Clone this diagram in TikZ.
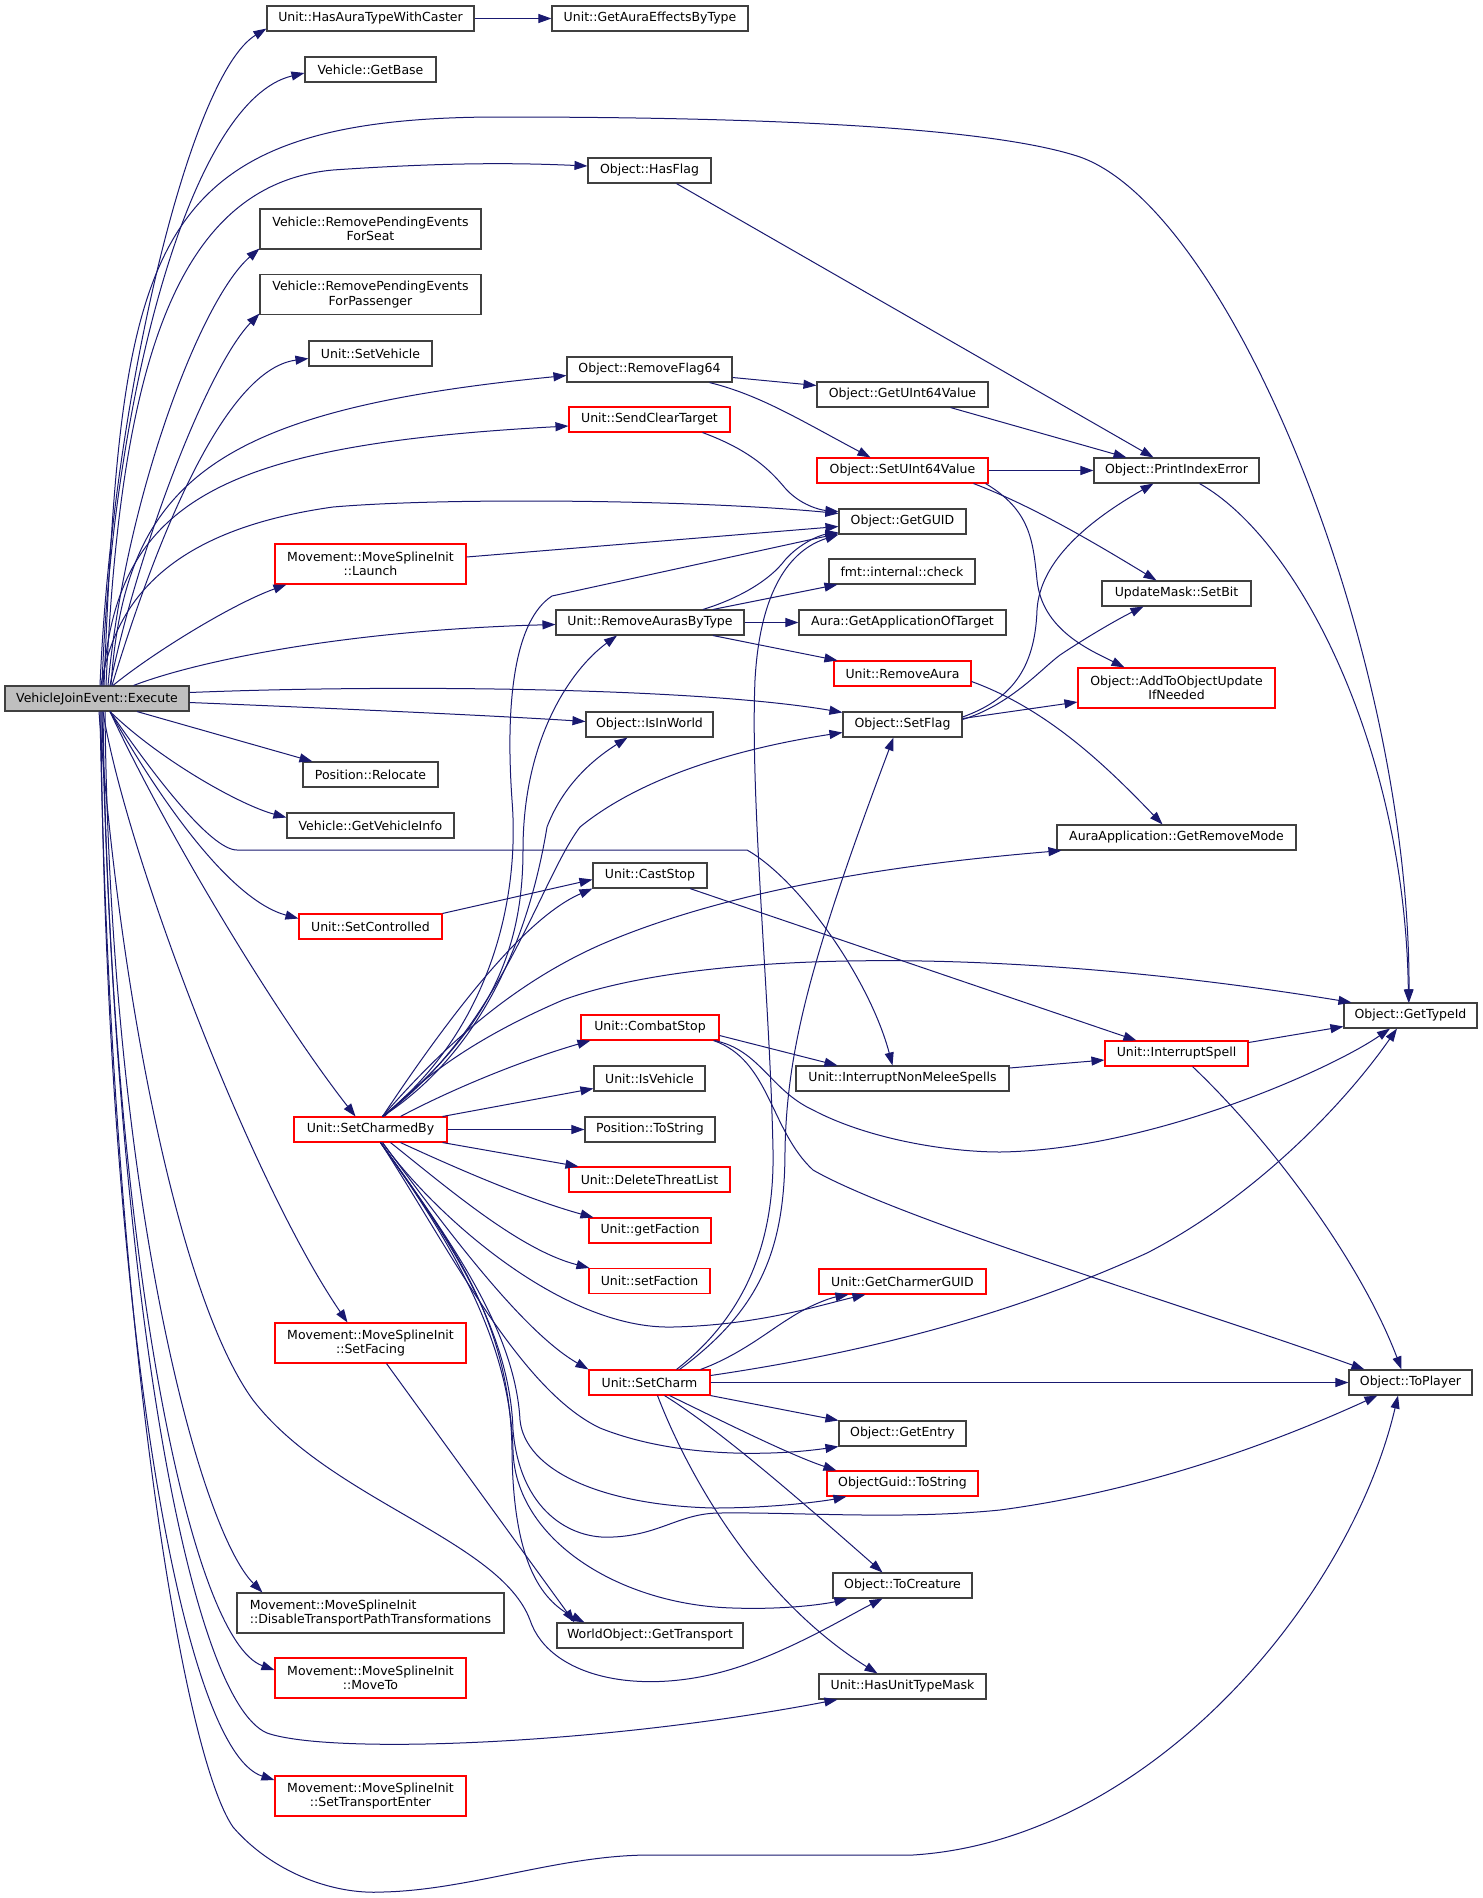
\documentclass[tikz,border=0pt]{standalone}
\usepackage{fontspec}
\setmainfont{DejaVu Sans}
\usetikzlibrary{arrows.meta,calc}
\definecolor{edgeblue}{HTML}{191970}
\definecolor{rootgray}{HTML}{BFBFBF}
\definecolor{boxline}{HTML}{404040}
\begin{document}
\begin{tikzpicture}[x=1pt,y=-1pt,
  box/.style={draw=boxline,line width=1.1pt,minimum height=25pt,inner sep=0pt,fill=white,text=black,font=\fontsize{12.5}{14.3}\selectfont},
  rbox/.style={box,draw=red},
  two/.style={minimum height=40pt,align=center},
  e/.style={draw=edgeblue,line width=1pt,-{Triangle[length=13pt,width=9pt]}}]
\fill[white] (0,0) rectangle (1483,1898);
\useasboundingbox (0,0) rectangle (1483,1898);
% nodes
\node[box,minimum width=184pt,fill=rootgray] (exec) at (97,698.5) {VehicleJoinEvent::Execute};
\node[box,minimum width=207pt] (hatc) at (370.5,18.5) {Unit::HasAuraTypeWithCaster};
\node[box,minimum width=196pt] (gaebt) at (650,18.5) {Unit::GetAuraEffectsByType};
\node[box,minimum width=131pt] (gbase) at (370.5,69.5) {Vehicle::GetBase};
\node[box,minimum width=123pt] (hasflag) at (649.5,170.5) {Object::HasFlag};
\node[box,two,minimum width=221pt] (rpeseat) at (370.5,229) {Vehicle::RemovePendingEvents\\ForSeat};
\node[box,two,minimum width=221pt] (rpepass) at (370.5,294.5) {Vehicle::RemovePendingEvents\\ForPassenger};
\node[box,minimum width=123pt] (setveh) at (370.5,353.5) {Unit::SetVehicle};
\node[box,minimum width=165pt] (rf64) at (649.5,369.5) {Object::RemoveFlag64};
\node[box,minimum width=171pt] (gu64) at (902.5,394.5) {Object::GetUInt64Value};
\node[rbox,minimum width=161pt] (sct) at (649.5,419.5) {Unit::SendClearTarget};
\node[rbox,minimum width=171pt] (su64) at (902.5,470.5) {Object::SetUInt64Value};
\node[box,minimum width=165pt] (pie) at (1176.5,470.5) {Object::PrintIndexError};
\node[rbox,two,minimum width=191pt] (launch) at (370.5,564) {Movement::MoveSplineInit\\::Launch};
\node[box,minimum width=127pt] (guid) at (902.5,521.5) {Object::GetGUID};
\node[box,minimum width=146pt] (fmt) at (902,571.5) {fmt::internal::check};
\node[box,minimum width=149pt] (setbit) at (1176.5,593.5) {UpdateMask::SetBit};
\node[box,minimum width=188pt] (rabt) at (650,622.5) {Unit::RemoveAurasByType};
\node[box,minimum width=207pt] (gaot) at (902.5,622.5) {Aura::GetApplicationOfTarget};
\node[rbox,minimum width=137pt] (raura) at (902.5,673.5) {Unit::RemoveAura};
\node[rbox,two,minimum width=197pt] (atou) at (1176.5,688) {Object::AddToObjectUpdate\\IfNeeded};
\node[box,minimum width=127pt] (isinw) at (649.5,724.5) {Object::IsInWorld};
\node[box,minimum width=119pt] (setflag) at (902.5,724.5) {Object::SetFlag};
\node[box,minimum width=135pt] (reloc) at (370.5,774.5) {Position::Relocate};
\node[box,minimum width=167pt] (gvi) at (370.5,825.5) {Vehicle::GetVehicleInfo};
\node[box,minimum width=239pt] (grm) at (1176.5,837.5) {AuraApplication::GetRemoveMode};
\node[box,minimum width=114pt] (caststop) at (650,875.5) {Unit::CastStop};
\node[rbox,minimum width=143pt] (setctrl) at (370.5,926.5) {Unit::SetControlled};
\node[box,minimum width=133pt] (typeid) at (1410.5,1015.5) {Object::GetTypeId};
\node[rbox,minimum width=138pt] (combat) at (650,1027.5) {Unit::CombatStop};
\node[rbox,minimum width=143pt] (intspell) at (1176.5,1053.5) {Unit::InterruptSpell};
\node[box,minimum width=111pt] (isveh) at (649.5,1078.5) {Unit::IsVehicle};
\node[box,minimum width=213pt] (inms) at (902.5,1078.5) {Unit::InterruptNonMeleeSpells};
\node[rbox,minimum width=153pt] (cb) at (370.5,1129.5) {Unit::SetCharmedBy};
\node[box,minimum width=130pt] (postr) at (650,1129.5) {Position::ToString};
\node[rbox,minimum width=161pt] (dtl) at (649.5,1179.5) {Unit::DeleteThreatList};
\node[rbox,minimum width=122pt] (getf) at (650,1230.5) {Unit::getFaction};
\node[rbox,minimum width=121pt] (setf) at (649.5,1281) {Unit::setFaction};
\node[rbox,minimum width=167pt] (cguid) at (902.5,1281.5) {Unit::GetCharmerGUID};
\node[rbox,two,minimum width=191pt] (facing) at (370.5,1343) {Movement::MoveSplineInit\\::SetFacing};
\node[rbox,minimum width=121pt] (setcharm) at (649.5,1382.5) {Unit::SetCharm};
\node[box,minimum width=123pt] (toplayer) at (1410.5,1382.5) {Object::ToPlayer};
\node[box,minimum width=127pt] (gentry) at (902.5,1433.5) {Object::GetEntry};
\node[rbox,minimum width=151pt] (ogts) at (902.5,1483.5) {ObjectGuid::ToString};
\node[box,minimum width=139pt] (tocreat) at (902.5,1585.5) {Object::ToCreature};
\node[box,two,align=left,minimum width=267pt] (dis) at (370.5,1613) {Movement::MoveSplineInit\\::DisableTransportPathTransformations};
\node[box,minimum width=186pt] (gtrans) at (650,1635.5) {WorldObject::GetTransport};
\node[rbox,two,minimum width=191pt] (moveto) at (370.5,1678) {Movement::MoveSplineInit\\::MoveTo};
\node[box,minimum width=167pt] (hutm) at (902.5,1686.5) {Unit::HasUnitTypeMask};
\node[rbox,two,minimum width=191pt] (ste) at (370.5,1796) {Movement::MoveSplineInit\\::SetTransportEnter};
% edges from exec (top fan)
\draw[e] ($(exec.north)+(3,0)$) .. controls (112,400) and (190,75) .. ($(hatc.south west)+(0,-3)$);
\draw[e] ($(exec.north)+(5,0)$) .. controls (112,400) and (190,100) .. ($(gbase.west)+(0,3.5)$);
\draw[e] ($(exec.north)+(7,0)$) .. controls (122,250) and (140,117) .. (500,117) .. controls (800,117) and (1000,130) .. (1080,157) .. controls (1230,210) and (1410,650) .. ($(typeid.north)+(-1.5,0)$);
\draw[e] ($(exec.north)+(9,0)$) .. controls (120,380) and (170,185) .. (333,170) .. controls (450,162) and (520,163) .. ($(hasflag.west)+(0,-4.5)$);
\draw[e] ($(exec.north)+(11,0)$) .. controls (125,500) and (200,300) .. ($(rpeseat.south west)+(0,-1)$);
\draw[e] ($(exec.north)+(13,0)$) .. controls (135,560) and (205,370) .. ($(rpepass.south west)+(0,-1.5)$);
\draw[e] ($(exec.north)+(15,0)$) .. controls (150,560) and (220,370) .. ($(setveh.west)+(0,5)$);
\draw[e] ($(exec.north)+(14,0)$) .. controls (125,480) and (215,410) .. ($(rf64.west)+(0,6)$);
\draw[e] ($(exec.north)+(6,0)$) .. controls (115,500) and (220,445) .. ($(sct.west)+(0,6.5)$);
\draw[e] ($(exec.north)+(4,0)$) .. controls (115,600) and (170,530) .. (333,507) .. controls (450,497) and (700,500) .. ($(guid.west)+(0,-8)$);
\draw[e] ($(exec.north)+(16,0)$) .. controls (150,655) and (230,605) .. ($(launch.south west)+(12,0)$);
\draw[e] ($(exec.north east)+(-56,0)$) .. controls (200,660) and (350,630) .. ($(rabt.west)+(0,2)$);
\draw[e] ($(exec.east)+(0,-6)$) .. controls (400,684) and (700,688) .. ($(setflag.north west)+(0,1)$);
\draw[e] ($(exec.east)+(0,4)$) .. controls (350,709) and (500,716) .. ($(isinw.west)+(0,-3)$);
% edges from exec (bottom fan)
\draw[e] ($(exec.south)+(40,0)$) -- ($(reloc.north west)+(10,0)$);
\draw[e] ($(exec.south)+(13,0)$) .. controls (160,760) and (240,805) .. ($(gvi.west)+(0,-8)$);
\draw[e] ($(exec.south)+(13,0)$) .. controls (150,770) and (210,850) .. (237,850) -- (747,850) .. controls (800,880) and (870,980) .. ($(inms.north)+(-10,0)$);
\draw[e] ($(exec.south)+(13,0)$) .. controls (160,800) and (230,900) .. ($(setctrl.west)+(0,-8)$);
\draw[e] ($(exec.south)+(13,0)$) .. controls (170,840) and (280,1020) .. ($(cb.north)+(-15,0)$);
\draw[e] ($(exec.south)+(6,0)$) .. controls (125,850) and (250,1180) .. ($(facing.north)+(-23,0)$);
\draw[e] ($(exec.south)+(8,0)$) .. controls (110,1200) and (200,1530) .. ($(dis.north west)+(26,0)$);
\draw[e] ($(exec.south)+(6,0)$) .. controls (110,1250) and (190,1640) .. ($(moveto.west)+(0,-8)$);
\draw[e] ($(exec.south)+(4,0)$) .. controls (105,1300) and (180,1750) .. ($(ste.west)+(0,-16)$);
\draw[e] ($(exec.south)+(5,0)$) .. controls (115,1300) and (190,1700) .. (267,1733) .. controls (330,1755) and (600,1745) .. ($(hutm.south west)+(19,0)$);
\draw[e] ($(exec.south)+(3,0)$) .. controls (110,1300) and (180,1750) .. (233,1827) .. controls (270,1870) and (330,1895) .. (383,1892) .. controls (470,1890) and (560,1855) .. (650,1855) -- (913,1855) .. controls (1150,1840) and (1350,1600) .. ($(toplayer.south)+(-12.5,0)$);
\draw[e] ($(exec.south)+(2,0)$) .. controls (120,1000) and (180,1300) .. (253,1400) .. controls (330,1500) and (500,1540) .. (530,1620) .. controls (550,1680) and (650,1700) .. (750,1663) .. controls (800,1645) and (850,1615) .. ($(tocreat.south)+(-20,0)$);
% edges from SetCharmedBy
\draw[e] ($(cb.north)+(12,0)$) .. controls (490,1030) and (520,900) .. (512,800) .. controls (505,700) and (515,620) .. (552,596) -- ($(guid.south west)+(0,-1)$);
\draw[e] ($(cb.north)+(12,0)$) .. controls (490,1030) and (523,950) .. (523,850) .. controls (523,740) and (570,670) .. ($(rabt.south)+(-33,0)$);
\draw[e] ($(cb.north)+(12,0)$) .. controls (500,1040) and (535,900) .. (547,827) .. controls (565,780) and (600,755) .. ($(isinw.south)+(-22,0)$);
\draw[e] ($(cb.north)+(12,0)$) .. controls (500,1030) and (540,880) .. (580,827) .. controls (650,770) and (760,745) .. ($(setflag.west)+(0,8)$);
\draw[e] ($(cb.north)+(12,0)$) .. controls (440,1030) and (520,920) .. (caststop.south west);
\draw[e] ($(cb.north)+(12,0)$) .. controls (440,1050) and (510,985) .. (600,945) .. controls (750,880) and (950,860) .. ($(grm.south west)+(5,0)$);
\draw[e] ($(cb.north)+(14,0)$) .. controls (420,1080) and (470,1040) .. (563,1000) .. controls (700,950) and (1000,945) .. ($(typeid.north west)+(8,0)$);
\draw[e] ($(cb.north)+(30,0)$) .. controls (460,1085) and (530,1058) .. ($(combat.south west)+(10,0)$);
\draw[e] ($(cb.north east)+(-5,0)$) -- ($(isveh.west)+(0,10)$);
\draw[e] (cb.east) -- (postr.west);
\draw[e] ($(cb.south east)+(-5,0)$) -- ($(dtl.north west)+(10,0)$);
\draw[e] ($(cb.south)+(30,0)$) .. controls (460,1170) and (530,1200) .. ($(getf.north west)+(5,0)$);
\draw[e] ($(cb.south)+(20,0)$) .. controls (450,1190) and (520,1250) .. ($(setf.north west)+(1,0)$);
\draw[e] ($(cb.south)+(12,0)$) .. controls (430,1210) and (560,1330) .. (673,1327) .. controls (760,1325) and (820,1305) .. ($(cguid.south west)+(47,0)$);
\draw[e] ($(cb.south)+(12,0)$) .. controls (440,1220) and (520,1330) .. (setcharm.north west);
\draw[e] ($(cb.south)+(10,0)$) .. controls (450,1250) and (520,1390) .. (600,1428) .. controls (680,1460) and (780,1455) .. (gentry.south west);
\draw[e] ($(cb.south)+(10,0)$) .. controls (450,1240) and (515,1330) .. (520,1420) .. controls (525,1470) and (600,1505) .. (713,1508) .. controls (780,1508) and (830,1500) .. ($(ogts.south west)+(20,0)$);
\draw[e] ($(cb.south)+(10,0)$) .. controls (450,1240) and (510,1330) .. (513,1430) .. controls (520,1510) and (570,1540) .. (613,1537) .. controls (660,1535) and (680,1513) .. (720,1513) .. controls (800,1512) and (900,1520) .. (1000,1510) .. controls (1150,1490) and (1280,1440) .. ($(toplayer.south west)+(29,0)$);
\draw[e] ($(cb.south)+(10,0)$) .. controls (450,1240) and (510,1340) .. (513,1450) .. controls (515,1540) and (620,1605) .. (733,1608) .. controls (790,1610) and (830,1603) .. ($(tocreat.south west)+(15,0)$);
\draw[e] ($(cb.south)+(10,0)$) .. controls (450,1240) and (510,1320) .. (512,1450) .. controls (513,1560) and (540,1600) .. ($(gtrans.north west)+(28,0)$);
\draw[e] ($(facing.south)+(16,0)$) -- ($(gtrans.north west)+(18,0)$);
% edges from SetCharm
\draw[e] ($(setcharm.north)+(27,0)$) .. controls (740,1320) and (775,1250) .. (773,1150) .. controls (770,1000) and (750,800) .. (755,680) .. controls (760,590) and (790,550) .. (guid.south west);
\draw[e] ($(setcharm.north)+(30,0)$) .. controls (760,1310) and (785,1250) .. (785,1150) .. controls (787,1050) and (810,960) .. ($(setflag.south)+(-9,0)$);
\draw[e] ($(setcharm.north east)+(-10,0)$) .. controls (740,1355) and (770,1330) .. (790,1318) .. controls (810,1305) and (830,1298) .. ($(cguid.south west)+(30,0)$);
\draw[e] ($(setcharm.east)+(0,-7)$) .. controls (850,1355) and (1000,1320) .. (1147,1253) .. controls (1250,1200) and (1340,1110) .. ($(typeid.south)+(-13.5,0)$);
\draw[e] (setcharm.east) -- (toplayer.west);
\draw[e] (setcharm.south east) -- (gentry.north west);
\draw[e] ($(setcharm.south)+(20,0)$) .. controls (720,1420) and (790,1455) .. ($(ogts.north west)+(10,0)$);
\draw[e] ($(setcharm.south)+(15,0)$) .. controls (720,1430) and (800,1500) .. ($(tocreat.north)+(-20,0)$);
\draw[e] ($(setcharm.south)+(8,0)$) .. controls (690,1480) and (760,1600) .. ($(hutm.north)+(-25,0)$);
% edges from CombatStop, CastStop, etc.
\draw[e] ($(combat.east)+(0,8)$) -- ($(inms.north west)+(42,0)$);
\draw[e] ($(combat.south east)+(-5,0)$) .. controls (760,1050) and (770,1090) .. (813,1110) .. controls (870,1140) and (950,1152) .. (1000,1152) .. controls (1150,1150) and (1330,1070) .. ($(typeid.south)+(-20.5,0)$);
\draw[e] ($(combat.south east)+(-6,0)$) .. controls (770,1060) and (770,1130) .. (813,1170) .. controls (900,1220) and (1200,1310) .. ($(toplayer.north west)+(16,0)$);
\draw[e] ($(caststop.south)+(40,0)$) -- ($(intspell.north west)+(32,0)$);
\draw[e] (setctrl.north east) -- ($(caststop.west)+(0,4)$);
\draw[e] ($(inms.east)+(0,-10.5)$) -- ($(intspell.west)+(0,6.5)$);
\draw[e] ($(intspell.east)+(0,-11)$) -- ($(typeid.west)+(0,11)$);
\draw[e] ($(intspell.south)+(16,0)$) .. controls (1270,1140) and (1360,1260) .. ($(toplayer.north)+(-9,0)$);
% upper right edges
\draw[e] (hatc.east) -- (gaebt.west);
\draw[e] ($(hasflag.south)+(27,0)$) -- ($(pie.north)+(-23,0)$);
\draw[e] ($(rf64.east)+(0,8)$) -- ($(gu64.west)+(0,-9)$);
\draw[e] ($(rf64.south)+(60,0)$) .. controls (760,395) and (800,420) .. ($(su64.north)+(-32,0)$);
\draw[e] ($(gu64.south)+(48,0)$) -- ($(pie.north)+(-50,0)$);
\draw[e] ($(sct.south)+(53,0)$) .. controls (750,450) and (770,470) .. (785,488) .. controls (800,505) and (820,510) .. ($(guid.west)+(0,-10)$);
\draw[e] (su64.east) -- (pie.west);
\draw[e] ($(su64.south east)+(-15,0)$) .. controls (1030,505) and (1090,540) .. ($(setbit.north)+(-20,0)$);
\draw[e] ($(su64.south east)+(-3,0)$) .. controls (1030,510) and (1033,540) .. (1037,580) .. controls (1042,630) and (1090,650) .. ($(atou.north west)+(47,0)$);
\draw[e] ($(pie.south)+(23,0)$) .. controls (1300,540) and (1405,750) .. ($(typeid.north)+(-2,0)$);
\draw[e] ($(launch.east)+(0,-7)$) -- ($(guid.west)+(0,5)$);
\draw[e] ($(rabt.north)+(53,0)$) .. controls (740,598) and (770,580) .. (785,560) .. controls (800,543) and (820,535) .. ($(guid.south west)+(0,-2)$);
\draw[e] ($(rabt.north)+(63,0)$) -- ($(fmt.south west)+(9,0)$);
\draw[e] (rabt.east) -- (gaot.west);
\draw[e] ($(rabt.south)+(63,0)$) -- ($(raura.north west)+(4,0)$);
\draw[e] ($(raura.east)+(0,8)$) .. controls (1050,710) and (1110,770) .. ($(grm.north)+(-14,0)$);
\draw[e] ($(setflag.east)+(0,-7.5)$) .. controls (1010,700) and (1035,670) .. (1037,610) .. controls (1040,560) and (1090,520) .. ($(pie.south)+(-23,0)$);
\draw[e] ($(setflag.east)+(0,-5)$) .. controls (1010,705) and (1040,670) .. (1060,655) .. controls (1090,635) and (1120,618) .. ($(setbit.south)+(-33,0)$);
\draw[e] ($(setflag.east)+(0,-6)$) -- ($(atou.west)+(0,14)$);
\end{tikzpicture}
\end{document}
